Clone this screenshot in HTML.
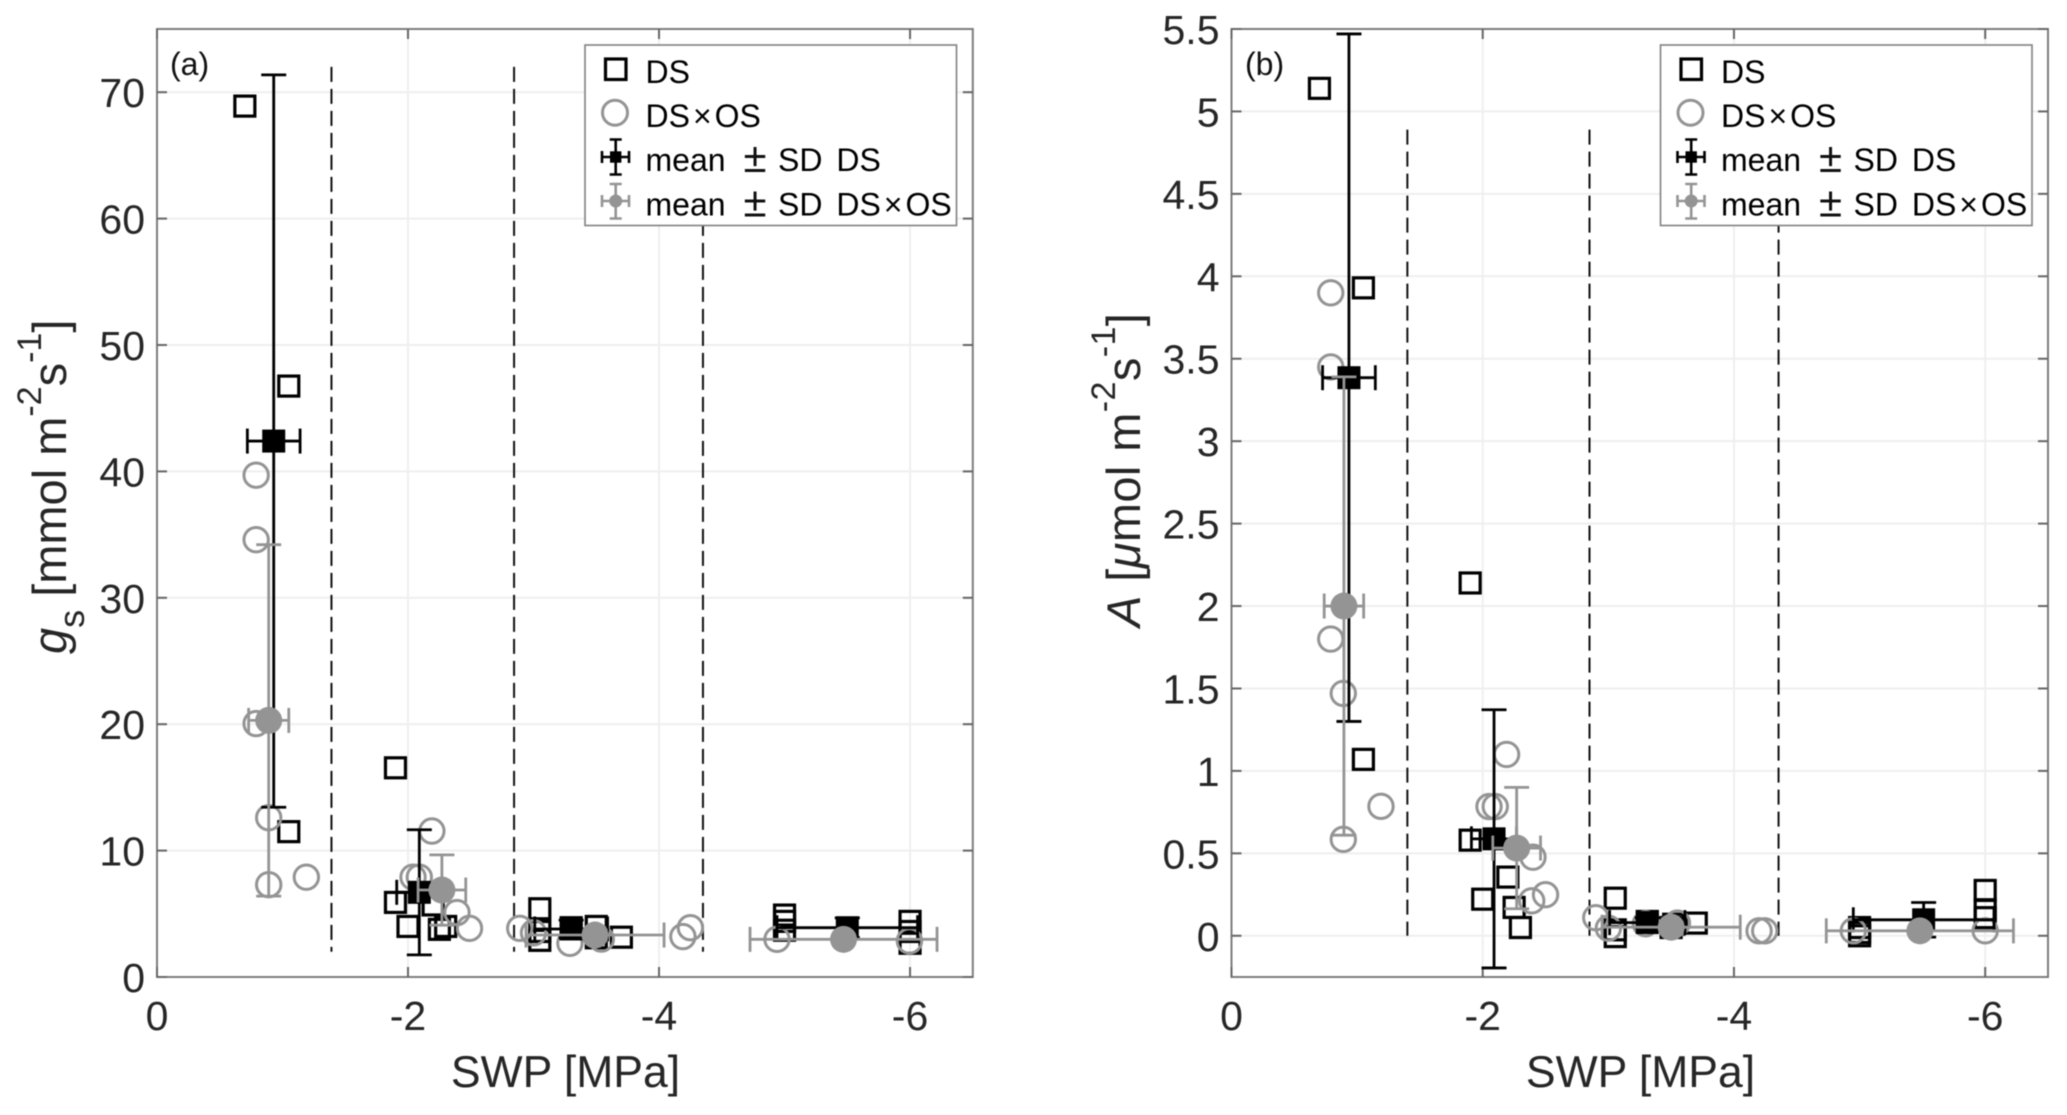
<!DOCTYPE html>
<html lang="en">
<head>
<meta charset="utf-8">
<title>Stomatal conductance and assimilation vs SWP</title>
<style>
html,body{margin:0;padding:0;background:#fff;width:2067px;height:1115px;overflow:hidden}
svg{display:block;filter:blur(0.4px)}
text{font-family:"Liberation Sans",Arial,sans-serif}
.tick{font-size:41px;fill:#262626}
.title{font-size:47px;fill:#262626}
.xtitle{font-size:44.5px;fill:#262626}
.leg{font-size:32px;fill:#000}
.pm{font-size:42px;fill:#111;text-anchor:middle}
.ws{word-spacing:5px}
.panel{font-size:32px;fill:#111}
</style>
</head>
<body>
<svg id="figure" xmlns="http://www.w3.org/2000/svg" width="2067" height="1115" viewBox="0 0 2067 1115">
  <g id="panel-a"><g id="plot-a"></g>
    <text class="xtitle" x="565.5" y="1087" text-anchor="middle">SWP [MPa]</text>
    <text class="title" transform="translate(66,654) rotate(-90)"><tspan font-style="italic">g</tspan><tspan font-size="36" dy="18">s</tspan><tspan dy="-18"> [mmol m</tspan><tspan font-size="34" dy="-25">-2</tspan><tspan dy="25">s</tspan><tspan font-size="34" dy="-25">-1</tspan><tspan dy="25">]</tspan></text>
    <text class="panel" x="170" y="75">(a)</text>
    <g>
      <rect x="585" y="45" width="371.5" height="180.5" fill="#fff" stroke="#808080" stroke-width="1.6"/>
      <rect x="605.5" y="59" width="20.5" height="20.5" fill="none" stroke="#000" stroke-width="3.2"/>
      <text class="leg" x="645.5" y="83">DS</text>
      <circle cx="615" cy="112.7" r="12.5" fill="none" stroke="#949494" stroke-width="3"/>
      <text class="leg" x="645.5" y="127">DS<tspan dx="3">×</tspan><tspan dx="3">OS</tspan></text>
      <g fill="none" stroke="#000" stroke-width="2.6">
        <path d="M615.7 139.5V174.5M609.7 139.5H621.7M609.7 174.5H621.7M602 157H629M602 151V163M629 151V163"/>
        <rect x="610" y="151.3" width="11.4" height="11.4" fill="#000" stroke="none"/>
      </g>
      <text class="leg"><tspan x="645.5" y="171">mean</tspan><tspan class="pm" x="755" y="172">±</tspan><tspan class="ws" x="778" y="171">SD DS</tspan></text>
      <g fill="none" stroke="#949494" stroke-width="2.6">
        <path d="M615.7 184V218.5M609.7 184H621.7M609.7 218.5H621.7M602 201H629M602 195V207M629 195V207"/>
        <circle cx="615.7" cy="201" r="6.5" fill="#949494" stroke="none"/>
      </g>
      <text class="leg"><tspan x="645.5" y="215.5">mean</tspan><tspan class="pm" x="755" y="216.5">±</tspan><tspan class="ws" x="778" y="215.5">SD DS<tspan dx="3">×</tspan><tspan dx="3">OS</tspan></tspan></text>
    </g>
  </g>
  <g id="panel-b"><g id="plot-b"></g>
    <text class="xtitle" x="1640.5" y="1087" text-anchor="middle">SWP [MPa]</text>
    <text class="title" transform="translate(1140,627) rotate(-90)" style="letter-spacing:0.4px"><tspan font-style="italic">A</tspan><tspan> [</tspan><tspan font-style="italic">μ</tspan><tspan>mol m</tspan><tspan font-size="34" dy="-25">-2</tspan><tspan dy="25">s</tspan><tspan font-size="34" dy="-25">-1</tspan><tspan dy="25">]</tspan></text>
    <text class="panel" x="1245" y="75">(b)</text>
    <g transform="translate(1075.5,0)">
      <rect x="585" y="45" width="371.5" height="180.5" fill="#fff" stroke="#808080" stroke-width="1.6"/>
      <rect x="605.5" y="59" width="20.5" height="20.5" fill="none" stroke="#000" stroke-width="3.2"/>
      <text class="leg" x="645.5" y="83">DS</text>
      <circle cx="615" cy="112.7" r="12.5" fill="none" stroke="#949494" stroke-width="3"/>
      <text class="leg" x="645.5" y="127">DS<tspan dx="3">×</tspan><tspan dx="3">OS</tspan></text>
      <g fill="none" stroke="#000" stroke-width="2.6">
        <path d="M615.7 139.5V174.5M609.7 139.5H621.7M609.7 174.5H621.7M602 157H629M602 151V163M629 151V163"/>
        <rect x="610" y="151.3" width="11.4" height="11.4" fill="#000" stroke="none"/>
      </g>
      <text class="leg"><tspan x="645.5" y="171">mean</tspan><tspan class="pm" x="755" y="172">±</tspan><tspan class="ws" x="778" y="171">SD DS</tspan></text>
      <g fill="none" stroke="#949494" stroke-width="2.6">
        <path d="M615.7 184V218.5M609.7 184H621.7M609.7 218.5H621.7M602 201H629M602 195V207M629 195V207"/>
        <circle cx="615.7" cy="201" r="6.5" fill="#949494" stroke="none"/>
      </g>
      <text class="leg"><tspan x="645.5" y="215.5">mean</tspan><tspan class="pm" x="755" y="216.5">±</tspan><tspan class="ws" x="778" y="215.5">SD DS<tspan dx="3">×</tspan><tspan dx="3">OS</tspan></tspan></text>
    </g>
  </g>
</svg>
<script>
/* Shared x axis ticks */
const xTickValues = [0, -2, -4, -6];
const xTickLabels = ['0', '-2', '-4', '-6'];

/* Panel (a): stomatal conductance */
const aYTickValues = [0, 10, 20, 30, 40, 50, 60, 70];
const aYTickLabels = ['0', '10', '20', '30', '40', '50', '60', '70'];
const aDsX = [-0.70, -1.05, -1.05, -1.90, -1.90, -2.00, -2.20, -2.25, -2.30, -3.05, -3.05, -3.05, -3.30, -3.50, -3.50, -3.70, -5.00, -5.00, -5.00, -6.00, -6.00, -6.00];
const aDsY = [68.9, 46.75, 11.5, 16.55, 5.9, 4.0, 5.7, 3.77, 4.0, 5.4, 3.6, 2.9, 3.9, 4.0, 3.1, 3.15, 4.9, 4.4, 3.7, 4.4, 3.6, 2.67];
const aOsX = [-0.79, -0.79, -0.79, -0.89, -0.89, -1.19, -2.04, -2.09, -2.19, -2.39, -2.49, -2.89, -3.00, -3.29, -3.54, -4.19, -4.25, -4.94, -5.995];
const aOsY = [39.7, 34.6, 20.05, 12.6, 7.3, 7.9, 7.9, 7.9, 11.55, 5.1, 3.85, 3.85, 3.5, 2.67, 3.0, 3.2, 3.9, 2.98, 2.85];
const aMeanDsX = [-0.93, -2.09, -3.30, -5.50];
const aMeanDsY = [42.4, 6.7, 3.8, 3.9];
const aSdDsX = [0.21, 0.18, 0.29, 0.56];
const aSdDsY = [28.97, 4.95, 0.7, 0.78];
const aMeanOsX = [-0.89, -2.27, -3.49, -5.47];
const aMeanOsY = [20.3, 6.88, 3.32, 2.98];
const aSdOsX = [0.16, 0.19, 0.55, 0.745];
const aSdOsY = [13.9, 2.78, 0.4, 0.1];
const aDividerX = [-1.39, -2.845, -4.35];
const aDividerY = [72, 2];

/* Panel (b): assimilation */
const bYTickValues = [0, 0.5, 1, 1.5, 2, 2.5, 3, 3.5, 4, 4.5, 5, 5.5];
const bYTickLabels = ['0', '0.5', '1', '1.5', '2', '2.5', '3', '3.5', '4', '4.5', '5', '5.5'];
const bDsX = [-0.70, -1.05, -1.05, -1.90, -1.90, -2.00, -2.20, -2.25, -2.30, -3.055, -3.055, -3.055, -3.31, -3.50, -3.52, -3.70, -5.00, -5.00, -5.00, -6.00, -6.00, -6.00];
const bDsY = [5.14, 3.93, 1.07, 2.14, 0.58, 0.222, 0.356, 0.172, 0.05, 0.228, 0.036, -0.005, 0.087, 0.05, 0.07, 0.077, 0.05, 0.02, 0.0, 0.275, 0.158, 0.11];
const bOsX = [-0.79, -0.79, -0.79, -0.89, -0.89, -1.19, -2.05, -2.10, -2.19, -2.40, -2.39, -2.50, -2.90, -3.00, -3.295, -3.55, -4.20, -4.245, -4.95, -6.00];
const bOsY = [3.90, 3.45, 1.80, 1.47, 0.585, 0.785, 0.784, 0.784, 1.10, 0.477, 0.212, 0.249, 0.11, 0.046, 0.073, 0.077, 0.03, 0.03, 0.03, 0.03];
const bMeanDsX = [-0.935, -2.09, -3.31, -5.51];
const bMeanDsY = [3.385, 0.588, 0.08, 0.097];
const bSdDsX = [0.21, 0.18, 0.30, 0.56];
const bSdDsY = [2.085, 0.783, 0.03, 0.105];
const bMeanOsX = [-0.895, -2.27, -3.50, -5.48];
const bMeanOsY = [2.0, 0.532, 0.052, 0.03];
const bSdOsX = [0.157, 0.19, 0.55, 0.745];
const bSdOsY = [1.39, 0.368, 0.03, 0.01];
const bDividerX = [-1.40, -2.85, -4.355];
const bDividerY = [4.89, 0];

const SVG_NS = 'http://www.w3.org/2000/svg';
const DS_COLOR = '#000';
const OS_COLOR = '#949494';

function add(parent, tag, name, attrs, content) {
  const el = document.createElementNS(SVG_NS, tag);
  
  
  for (const k in attrs) { el.setAttribute(k, attrs[k]); }
  if (content !== undefined) { el.textContent = content; }
  parent.appendChild(el);
  return el;
}

function line(parent, name, x1, y1, x2, y2, color, width, extra) {
  return add(parent, 'line', name, Object.assign({ x1: x1, y1: y1, x2: x2, y2: y2, stroke: color, 'stroke-width': width }, extra || {}));
}

function errorBars(g, label, sx, sy, mx, my, sdx, sdy, color, width) {
  const cap = 12.5;
  mx.forEach(function (v, i) {
    const px = sx(v), py = sy(my[i]);
    const x1 = sx(v + sdx[i]), x2 = sx(v - sdx[i]);
    const y1 = sy(my[i] + sdy[i]), y2 = sy(my[i] - sdy[i]);
    const n = label + '-' + (i + 1);
    line(g, n + '-y-error', px, y1, px, y2, color, width);
    line(g, n + '-y-cap-top', px - cap, y1, px + cap, y1, color, width);
    line(g, n + '-y-cap-bottom', px - cap, y2, px + cap, y2, color, width);
    line(g, n + '-x-error', x1, py, x2, py, color, width);
    line(g, n + '-x-cap-left', x1, py - cap, x1, py + cap, color, width);
    line(g, n + '-x-cap-right', x2, py - cap, x2, py + cap, color, width);
  });
}

function drawPanel(cfg) {
  const g = document.getElementById(cfg.id);
  const L = cfg.left, R = cfg.right, T = 29, B = 977;
  const sx = function (v) { return L + (0 - v) / 6.5 * (R - L); };
  const sy = function (v) { return B - (v - cfg.yMin) / (cfg.yMax - cfg.yMin) * (B - T); };

  xTickValues.forEach(function (v) {
    if (v !== 0) { line(g, 'x-gridline', sx(v), T, sx(v), B, '#efefef', 2); }
  });
  cfg.yTicks.forEach(function (v) {
    if (v !== cfg.yMax) { line(g, 'y-gridline', L, sy(v), R, sy(v), '#efefef', 2); }
  });
  add(g, 'rect', 'axes-box', { x: L, y: T, width: R - L, height: B - T, fill: 'none', stroke: '#7d7d7d', 'stroke-width': 2 });
  xTickValues.forEach(function (v, i) {
    line(g, 'x-tick-bottom', sx(v), B, sx(v), B - 10, '#666', 2);
    line(g, 'x-tick-top', sx(v), T, sx(v), T + 10, '#666', 2);
    add(g, 'text', 'x-tick-label', { class: 'tick', x: sx(v), y: 1030, 'text-anchor': 'middle' }, xTickLabels[i]);
  });
  cfg.yTicks.forEach(function (v, i) {
    line(g, 'y-tick-left', L, sy(v), L + 10, sy(v), '#666', 2);
    line(g, 'y-tick-right', R, sy(v), R - 10, sy(v), '#666', 2);
    add(g, 'text', 'y-tick-label', { class: 'tick', x: L - 12, y: sy(v) + 15, 'text-anchor': 'end' }, cfg.yLabels[i]);
  });
  cfg.dividerX.forEach(function (v) {
    line(g, 'phase-divider', sx(v), sy(cfg.dividerY[0]), sx(v), sy(cfg.dividerY[1]), '#111', 2, { 'stroke-dasharray': '15 7' });
  });
  cfg.dsX.forEach(function (v, i) {
    add(g, 'rect', 'ds-point', { x: sx(v) - 10, y: sy(cfg.dsY[i]) - 10, width: 20, height: 20, fill: 'none', stroke: DS_COLOR, 'stroke-width': 3.2 });
  });
  cfg.osX.forEach(function (v, i) {
    add(g, 'circle', 'dsos-point', { cx: sx(v), cy: sy(cfg.osY[i]), r: 12.2, fill: 'none', stroke: OS_COLOR, 'stroke-width': 3 });
  });
  errorBars(g, 'mean-ds', sx, sy, cfg.meanDsX, cfg.meanDsY, cfg.sdDsX, cfg.sdDsY, DS_COLOR, 2.8);
  cfg.meanDsX.forEach(function (v, i) {
    add(g, 'rect', 'mean-ds-marker', { x: sx(v) - 11.5, y: sy(cfg.meanDsY[i]) - 11.5, width: 23, height: 23, fill: DS_COLOR });
  });
  errorBars(g, 'mean-dsos', sx, sy, cfg.meanOsX, cfg.meanOsY, cfg.sdOsX, cfg.sdOsY, OS_COLOR, 2.8);
  cfg.meanOsX.forEach(function (v, i) {
    add(g, 'circle', 'mean-dsos-marker', { cx: sx(v), cy: sy(cfg.meanOsY[i]), r: 13.5, fill: OS_COLOR });
  });
}

drawPanel({
  id: 'plot-a', left: 157, right: 972.8, yMin: 0, yMax: 75,
  yTicks: aYTickValues, yLabels: aYTickLabels,
  dsX: aDsX, dsY: aDsY, osX: aOsX, osY: aOsY,
  meanDsX: aMeanDsX, meanDsY: aMeanDsY, sdDsX: aSdDsX, sdDsY: aSdDsY,
  meanOsX: aMeanOsX, meanOsY: aMeanOsY, sdOsX: aSdOsX, sdOsY: aSdOsY,
  dividerX: aDividerX, dividerY: aDividerY
});
drawPanel({
  id: 'plot-b', left: 1231.5, right: 2048, yMin: -0.25, yMax: 5.5,
  yTicks: bYTickValues, yLabels: bYTickLabels,
  dsX: bDsX, dsY: bDsY, osX: bOsX, osY: bOsY,
  meanDsX: bMeanDsX, meanDsY: bMeanDsY, sdDsX: bSdDsX, sdDsY: bSdDsY,
  meanOsX: bMeanOsX, meanOsY: bMeanOsY, sdOsX: bSdOsX, sdOsY: bSdOsY,
  dividerX: bDividerX, dividerY: bDividerY
});
</script>
</body>
</html>
